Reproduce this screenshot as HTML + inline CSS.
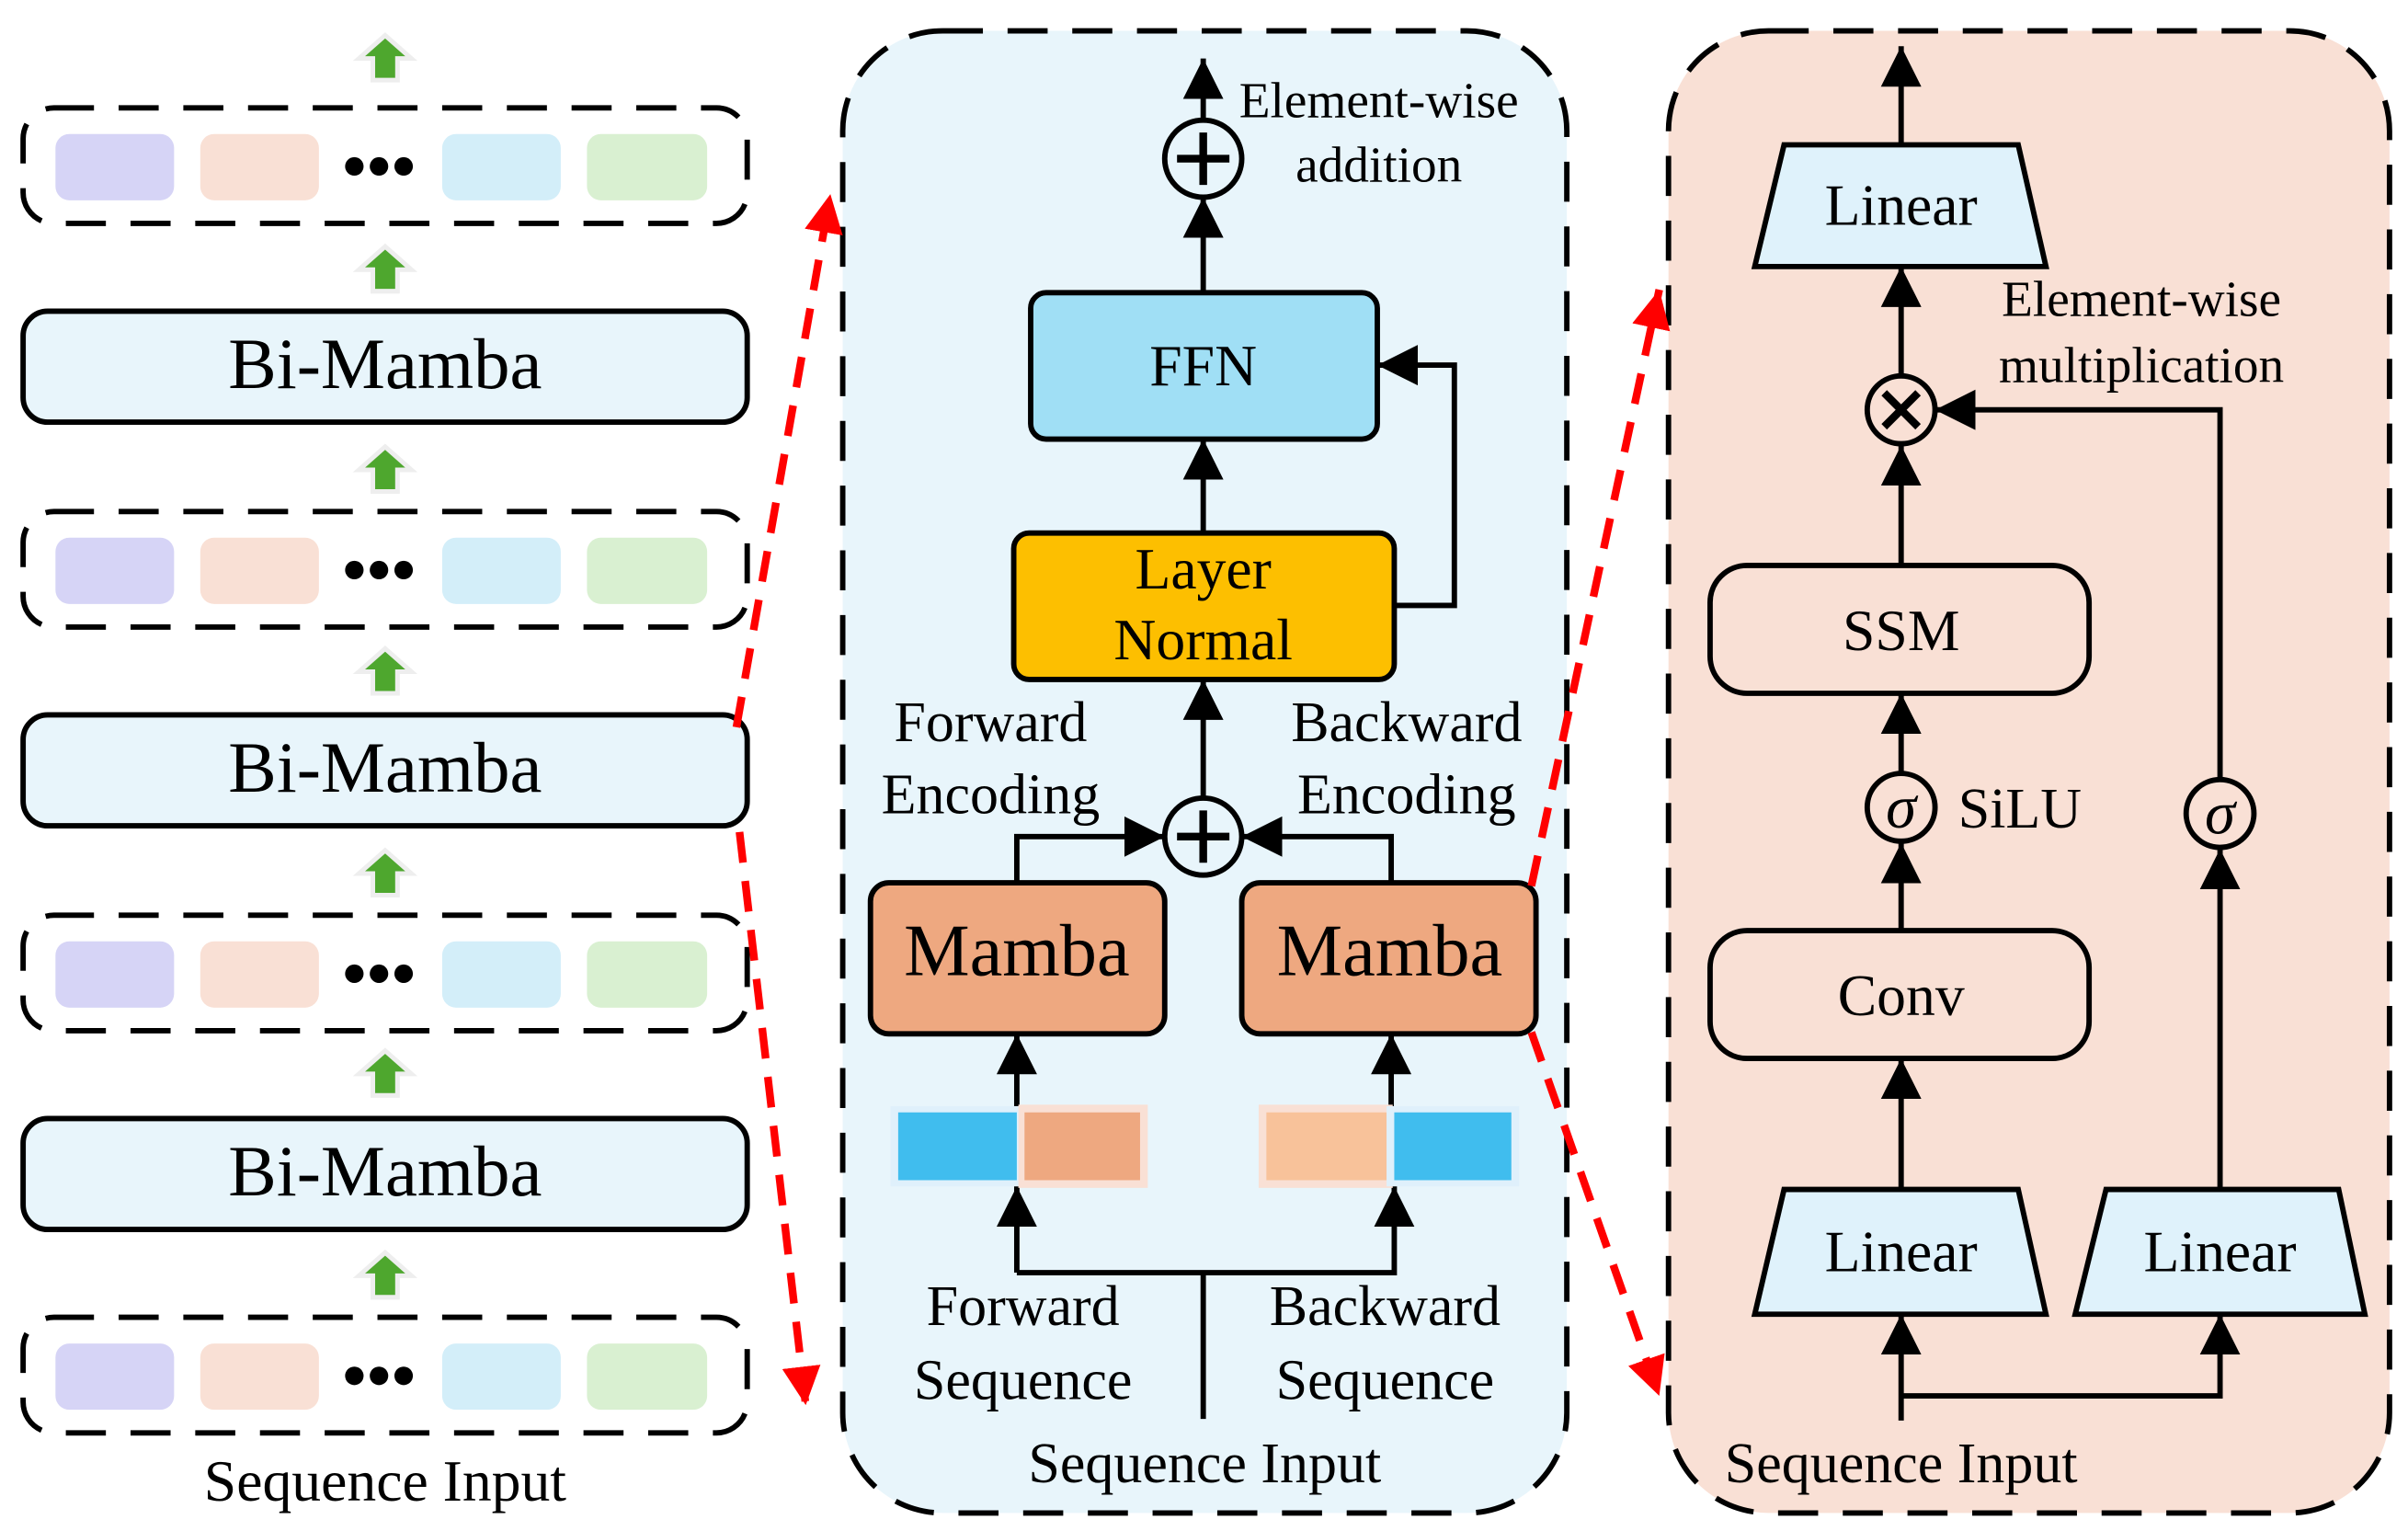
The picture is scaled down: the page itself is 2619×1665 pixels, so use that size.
<!DOCTYPE html>
<html><head><meta charset="utf-8"><style>
html,body{margin:0;padding:0;background:#fff;}
svg{display:block;}
text{font-family:"Liberation Serif","Times New Roman",serif;fill:#000;}
</style></head><body>
<svg width="2619" height="1665" viewBox="0 0 1563 993.7" preserveAspectRatio="none" xmlns="http://www.w3.org/2000/svg">
<defs>
<marker id="ah" viewBox="0 0 10 10" refX="10" refY="5" markerWidth="7.5" markerHeight="7.5" markerUnits="strokeWidth" orient="auto"><path d="M0,0 L10,5 L0,10 z" fill="#000"/></marker>
<marker id="rh" viewBox="0 0 10 10" refX="10" refY="5" markerWidth="5" markerHeight="5" markerUnits="strokeWidth" orient="auto"><path d="M0,0 L10,5 L0,10 z" fill="#f00"/></marker>
<g id="garrow"><path d="M-17,0 L0,-15 L17,0 L8,0 L8,14 L-8,14 L-8,0 z" fill="#4ea72e" stroke="#eee" stroke-width="3"/></g>
<g id="seq">
<rect x="15" y="0" width="470" height="75" rx="20" fill="none" stroke="#000" stroke-width="3.5" stroke-dasharray="26 16"/>
<rect x="36" y="17" width="77" height="43" rx="9" fill="#d6d4f6"/>
<rect x="130" y="17" width="77" height="43" rx="9" fill="#f9e0d5"/>
<circle cx="230" cy="38" r="6"/><circle cx="246" cy="38" r="6"/><circle cx="262" cy="38" r="6"/>
<rect x="287" y="17" width="77" height="43" rx="9" fill="#d3eef9"/>
<rect x="381" y="17" width="78" height="43" rx="9" fill="#d9f0d1"/>
</g>
<g id="bim">
<rect x="15" y="0" width="470" height="72" rx="16" fill="#e8f5fb" stroke="#000" stroke-width="3.5"/>
<text x="250" y="50" font-size="47" text-anchor="middle">Bi-Mamba</text>
</g>
</defs>

<use href="#garrow" x="250" y="38"/>
<use href="#seq" y="70"/>
<use href="#garrow" x="250" y="175"/>
<use href="#bim" y="202"/>
<use href="#garrow" x="250" y="305"/>
<use href="#seq" y="332"/>
<use href="#garrow" x="250" y="436"/>
<use href="#bim" y="464"/>
<use href="#garrow" x="250" y="567"/>
<use href="#seq" y="594"/>
<use href="#garrow" x="250" y="697"/>
<use href="#bim" y="726"/>
<use href="#garrow" x="250" y="828"/>
<use href="#seq" y="855"/>
<text x="250" y="974" font-size="38" text-anchor="middle">Sequence Input</text>

<rect x="547" y="20" width="470" height="962" rx="65" fill="#e8f5fb" stroke="#000" stroke-width="3.5" stroke-dasharray="26 16"/>
<g stroke="#000" stroke-width="3.5" fill="none">
<line x1="781" y1="78" x2="781" y2="38" marker-end="url(#ah)"/>
<line x1="781" y1="190" x2="781" y2="128" marker-end="url(#ah)"/>
<line x1="781" y1="346" x2="781" y2="285" marker-end="url(#ah)"/>
<line x1="781" y1="518" x2="781" y2="441" marker-end="url(#ah)"/>
<polyline points="905,393 944,393 944,237 894,237" marker-end="url(#ah)"/>
<polyline points="660,573 660,543 756,543" marker-end="url(#ah)"/>
<polyline points="903,573 903,543 806,543" marker-end="url(#ah)"/>
<line x1="660" y1="718" x2="660" y2="671" marker-end="url(#ah)"/>
<line x1="903" y1="718" x2="903" y2="671" marker-end="url(#ah)"/>
<polyline points="660,826 660,770" marker-end="url(#ah)"/>
<polyline points="660,826 905,826 905,770" marker-end="url(#ah)"/>
<line x1="781" y1="826" x2="781" y2="921"/>
</g>
<circle cx="781" cy="103" r="25" fill="none" stroke="#000" stroke-width="3.5"/>
<path d="M781,86 V120 M764,103 H798" stroke="#000" stroke-width="5"/>
<circle cx="781" cy="543" r="25" fill="none" stroke="#000" stroke-width="3.5"/>
<path d="M781,526 V560 M764,543 H798" stroke="#000" stroke-width="5"/>
<text x="895" y="76" font-size="33" text-anchor="middle">Element-wise</text>
<text x="895" y="118" font-size="33" text-anchor="middle">addition</text>
<rect x="669" y="190" width="225" height="95" rx="10" fill="#a0dff5" stroke="#000" stroke-width="3.5"/>
<text x="781" y="250" font-size="38" text-anchor="middle">FFN</text>
<rect x="658" y="346" width="247" height="95" rx="10" fill="#fdbf00" stroke="#000" stroke-width="3.5"/>
<text x="781" y="382" font-size="38" text-anchor="middle">Layer</text>
<text x="781" y="428" font-size="38" text-anchor="middle">Normal</text>
<text x="643" y="481" font-size="37" text-anchor="middle">Forward</text>
<text x="643" y="528" font-size="37" text-anchor="middle">Encoding</text>
<text x="913" y="481" font-size="37" text-anchor="middle">Backward</text>
<text x="913" y="528" font-size="37" text-anchor="middle">Encoding</text>
<rect x="565" y="573" width="191" height="98" rx="12" fill="#eea880" stroke="#000" stroke-width="3.5"/>
<text x="660" y="633" font-size="48" text-anchor="middle">Mamba</text>
<rect x="806" y="573" width="191" height="98" rx="12" fill="#eea880" stroke="#000" stroke-width="3.5"/>
<text x="902" y="633" font-size="48" text-anchor="middle">Mamba</text>
<rect x="578" y="718" width="87" height="52" fill="#dff0fb"/>
<rect x="583" y="722" width="77" height="44" fill="#40bdee"/>
<rect x="661" y="717" width="84" height="54" fill="#f9e0d5"/>
<rect x="665" y="722" width="75" height="44" fill="#eea880"/>
<rect x="817" y="717" width="87" height="54" fill="#f9e0d5"/>
<rect x="822" y="722" width="78" height="44" fill="#f8c29a"/>
<rect x="900" y="718" width="86" height="52" fill="#dff0fb"/>
<rect x="905" y="722" width="76" height="44" fill="#40bdee"/>
<text x="664" y="860" font-size="37" text-anchor="middle">Forward</text>
<text x="664" y="908" font-size="37" text-anchor="middle">Sequence</text>
<text x="899" y="860" font-size="37" text-anchor="middle">Backward</text>
<text x="899" y="908" font-size="37" text-anchor="middle">Sequence</text>
<text x="782" y="962" font-size="37" text-anchor="middle">Sequence Input</text>

<rect x="1083" y="20" width="468" height="962" rx="65" fill="#f9e0d5" stroke="#000" stroke-width="3.5" stroke-dasharray="26 16"/>
<g stroke="#000" stroke-width="3.5" fill="none">
<line x1="1234" y1="94" x2="1234" y2="30" marker-end="url(#ah)"/>
<line x1="1234" y1="244" x2="1234" y2="173" marker-end="url(#ah)"/>
<polyline points="1441,506 1441,266 1256,266" marker-end="url(#ah)"/>
<line x1="1234" y1="367" x2="1234" y2="289" marker-end="url(#ah)"/>
<line x1="1234" y1="502" x2="1234" y2="450" marker-end="url(#ah)"/>
<line x1="1234" y1="604" x2="1234" y2="547" marker-end="url(#ah)"/>
<line x1="1234" y1="772" x2="1234" y2="687" marker-end="url(#ah)"/>
<line x1="1441" y1="772" x2="1441" y2="551" marker-end="url(#ah)"/>
<line x1="1234" y1="922" x2="1234" y2="853" marker-end="url(#ah)"/>
<polyline points="1234,906 1441,906 1441,853" marker-end="url(#ah)"/>
</g>
<polygon points="1158,94 1310,94 1328,173 1139,173" fill="#dff2fb" stroke="#000" stroke-width="3.5"/>
<text x="1234" y="146" font-size="38" text-anchor="middle">Linear</text>
<text x="1390" y="205" font-size="33" text-anchor="middle">Element-wise</text>
<text x="1390" y="248" font-size="33" text-anchor="middle">multiplication</text>
<circle cx="1234" cy="266" r="22" fill="none" stroke="#000" stroke-width="3.5"/>
<path d="M1223,255 L1245,277 M1245,255 L1223,277" stroke="#000" stroke-width="5"/>
<rect x="1110" y="367" width="246" height="83" rx="24" fill="none" stroke="#000" stroke-width="3.5"/>
<text x="1234" y="422" font-size="38" text-anchor="middle">SSM</text>
<circle cx="1234" cy="524" r="22" fill="none" stroke="#000" stroke-width="3.5"/>
<text x="1234" y="537" font-size="40" font-style="italic" text-anchor="middle">σ</text>
<text x="1271" y="537" font-size="37">SiLU</text>
<circle cx="1441" cy="528" r="22" fill="none" stroke="#000" stroke-width="3.5"/>
<text x="1441" y="541" font-size="40" font-style="italic" text-anchor="middle">σ</text>
<rect x="1110" y="604" width="246" height="83" rx="24" fill="none" stroke="#000" stroke-width="3.5"/>
<text x="1234" y="659" font-size="38" text-anchor="middle">Conv</text>
<polygon points="1158,772 1310,772 1328,853 1139,853" fill="#dff2fb" stroke="#000" stroke-width="3.5"/>
<text x="1234" y="825" font-size="38" text-anchor="middle">Linear</text>
<polygon points="1367,772 1518,772 1535,853 1347,853" fill="#dff2fb" stroke="#000" stroke-width="3.5"/>
<text x="1441" y="825" font-size="38" text-anchor="middle">Linear</text>
<text x="1234" y="962" font-size="37" text-anchor="middle">Sequence Input</text>

<g stroke="#f00" stroke-width="5" fill="none" stroke-dasharray="20 12">
<line x1="478" y1="472" x2="539" y2="126" marker-end="url(#rh)"/>
<line x1="480" y1="540" x2="523" y2="912" marker-end="url(#rh)"/>
<line x1="994" y1="575" x2="1077" y2="188" marker-end="url(#rh)"/>
<line x1="994" y1="670" x2="1077" y2="906" marker-end="url(#rh)"/>
</g>
</svg>
</body></html>
